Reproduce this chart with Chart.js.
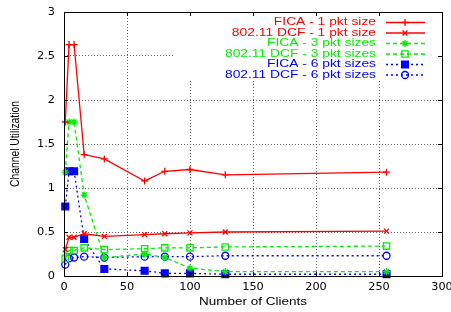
<!DOCTYPE html>
<html lang="en">
<head>
<meta charset="UTF-8">
<title>Channel Utilization</title>
<script src="https://cdn.jsdelivr.net/npm/chart.js"></script>
<style>
  html, body { margin: 0; padding: 0; background: #fff; }
  #box { width: 451px; height: 312px; }
</style>
</head>
<body>
<div id="box"><canvas id="grafico"></canvas></div>
<script>
// numero de clientes (eixo x)
const clientes = [1, 4, 8, 16, 32, 64, 80, 100, 128, 256];

// valores
const ficaUm     = [1.75, 2.63, 2.63, 1.38, 1.33, 1.08, 1.19, 1.21, 1.15, 1.18];
const dcfUm      = [0.30, 0.44, 0.44, 0.48, 0.45, 0.47, 0.48, 0.49, 0.50, 0.51];
const ficaTres   = [1.18, 1.75, 1.75, 0.92, 0.21, 0.25, 0.21, 0.09, 0.05, 0.05];
const dcfTres    = [0.20, 0.29, 0.29, 0.32, 0.30, 0.31, 0.32, 0.32, 0.33, 0.34];
const ficaSeis   = [0.79, 1.19, 1.19, 0.42, 0.08, 0.06, 0.03, 0.03, 0.02, 0.02];
const dcfSeis    = [0.13, 0.20, 0.21, 0.22, 0.21, 0.22, 0.22, 0.22, 0.23, 0.23];

const nomes = [
  'FICA - 1 pkt size',
  '802.11 DCF - 1 pkt size',
  'FICA - 3 pkt sizes',
  '802.11 DCF - 3 pkt sizes',
  'FICA - 6 pkt sizes',
  '802.11 DCF - 6 pkt sizes'
];

const xTicks = [0, 50, 100, 150, 200, 250, 300];
const yTicks = [0, 0.5, 1, 1.5, 2, 2.5, 3];

const VERMELHO = '#ff0000';
const VERDE = '#00f000';
const AZUL = '#0000ff';
const TRANSP = 'rgba(0,0,0,0)';
const FONTE = '"Liberation Sans", Arial, sans-serif';
const FONTE_TICK = '"DejaVu Sans", sans-serif';

function pontos(valores) {
  return clientes.map((c, i) => ({ x: c, y: valores[i] }));
}

function serie(nome, valores, cor, dash, estilo, raio, preenche) {
  return {
    label: nome,
    data: pontos(valores),
    borderColor: cor,
    backgroundColor: preenche ? cor : TRANSP,
    borderWidth: 1.3,
    borderDash: dash,
    pointStyle: estilo,
    pointRadius: raio,
    pointBorderWidth: 1.3,
    pointBorderColor: cor,
    pointBackgroundColor: preenche ? cor : TRANSP,
    tension: 0,
    fill: false,
    clip: false
  };
}

const datasets = [
  serie(nomes[0], ficaUm, VERMELHO, [], 'cross', 3.5, false),
  serie(nomes[1], dcfUm, VERMELHO, [], 'crossRot', 3.5, false),
  serie(nomes[2], ficaTres, VERDE, [4, 3], 'star', 3.5, false),
  serie(nomes[3], dcfTres, VERDE, [4, 3], 'rect', 4.5, false),
  serie(nomes[4], ficaSeis, AZUL, [2, 3], 'rect', 4.8, true),
  serie(nomes[5], dcfSeis, AZUL, [2, 3], 'circle', 3.5, false)
];

// moldura estilo gnuplot, legenda e titulos dos eixos
const moldura = {
  id: 'moldura',
  beforeDatasetsDraw(chart) {
    const ctx = chart.ctx;
    const a = chart.chartArea;
    // apaga a grade atras da legenda
    ctx.save();
    ctx.fillStyle = '#fff';
    ctx.fillRect(173, a.top + 1, a.right - 174, 80 - a.top);
    ctx.restore();
  },
  afterDraw(chart) {
    const ctx = chart.ctx;
    const a = chart.chartArea;
    const sx = chart.scales.x, sy = chart.scales.y;
    ctx.save();
    ctx.strokeStyle = '#000';
    ctx.lineWidth = 1;
    ctx.setLineDash([]);
    ctx.strokeRect(Math.round(a.left) + 0.5, Math.round(a.top) + 0.5,
      Math.round(a.right - a.left), Math.round(a.bottom - a.top));
    // marcas internas
    ctx.beginPath();
    xTicks.forEach(v => {
      const px = Math.round(sx.getPixelForValue(v)) + 0.5;
      ctx.moveTo(px, a.bottom); ctx.lineTo(px, a.bottom - 4);
      ctx.moveTo(px, a.top); ctx.lineTo(px, a.top + 4);
    });
    yTicks.forEach(v => {
      const py = Math.round(sy.getPixelForValue(v)) + 0.5;
      ctx.moveTo(a.left, py); ctx.lineTo(a.left + 4, py);
      ctx.moveTo(a.right, py); ctx.lineTo(a.right - 4, py);
    });
    ctx.stroke();

    // legenda
    const linhas = [22.5, 33, 43.5, 54, 64.5, 75];
    datasets.forEach((d, i) => {
      const y = linhas[i];
      ctx.save();
      ctx.translate(376, y);
      ctx.scale(1.28, 1);
      ctx.font = '10.8px ' + FONTE;
      ctx.textAlign = 'right';
      ctx.textBaseline = 'middle';
      ctx.fillStyle = d.borderColor;
      ctx.fillText(d.label, 0, 0);
      ctx.restore();

      ctx.strokeStyle = d.borderColor;
      ctx.lineWidth = d.borderWidth;
      ctx.setLineDash(d.borderDash);
      ctx.beginPath();
      ctx.moveTo(386, y); ctx.lineTo(425, y);
      ctx.stroke();
      ctx.setLineDash([]);
      ctx.fillStyle = d.pointBackgroundColor;
      Chart.helpers.drawPoint(ctx, {
        pointStyle: d.pointStyle,
        radius: d.pointRadius,
        borderWidth: d.pointBorderWidth,
        rotation: 0
      }, 405, y);
    });

    // titulos
    ctx.fillStyle = '#000';
    ctx.textAlign = 'center';
    ctx.textBaseline = 'middle';
    ctx.save();
    ctx.translate((a.left + a.right) / 2, 302);
    ctx.scale(1.25, 1);
    ctx.font = '10.8px ' + FONTE;
    ctx.fillText('Number of Clients', 0, 0);
    ctx.restore();

    ctx.save();
    ctx.translate(15, (a.top + a.bottom) / 2);
    ctx.scale(1.25, 1);
    ctx.rotate(-Math.PI / 2);
    ctx.font = '10.3px ' + FONTE;
    ctx.fillText('Channel Utilization', 0, 0);
    ctx.restore();
    ctx.restore();
  }
};

new Chart(document.getElementById('grafico'), {
  type: 'line',
  data: { datasets: datasets },
  options: {
    responsive: true,
    maintainAspectRatio: false,
    animation: false,
    layout: { padding: { top: 12, right: 9, left: 0, bottom: 0 } },
    plugins: {
      legend: { display: false },
      tooltip: { enabled: false }
    },
    scales: {
      x: {
        type: 'linear',
        min: 0,
        max: 300,
        afterFit(s) {
          s.height = 36;
          s.paddingLeft = 0;
          s.paddingRight = 0;
        },
        afterBuildTicks(s) { s.ticks = xTicks.map(v => ({ value: v })); },
        ticks: {
          color: '#000',
          padding: 4,
          maxRotation: 0,
          callback: v => String(v),
          font: { size: 11.3, family: FONTE_TICK }
        },
        grid: { color: '#666', drawTicks: false, lineWidth: 1 },
        border: { display: false, dash: [1, 2] }
      },
      y: {
        type: 'linear',
        min: 0,
        max: 3,
        afterFit(s) {
          s.width = 64;
          s.paddingTop = 0;
          s.paddingBottom = 0;
        },
        afterBuildTicks(s) { s.ticks = yTicks.map(v => ({ value: v })); },
        ticks: {
          color: '#000',
          padding: 9,
          callback: v => String(v),
          font: { size: 11.3, family: FONTE_TICK }
        },
        grid: { color: '#666', drawTicks: false, lineWidth: 1 },
        border: { display: false, dash: [1, 2] }
      }
    }
  },
  plugins: [moldura]
});
</script>
</body>
</html>
